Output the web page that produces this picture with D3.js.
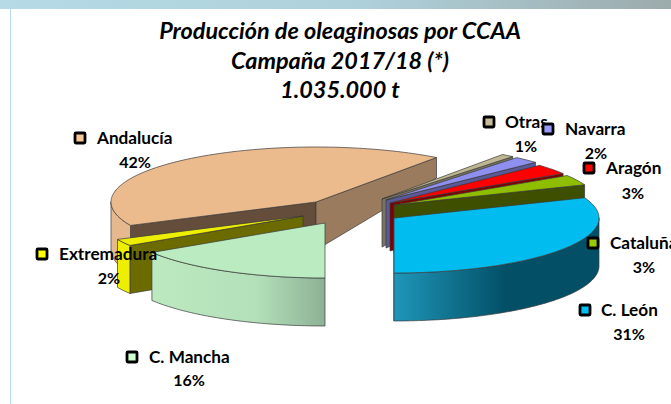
<!DOCTYPE html>
<html>
<head>
<meta charset="utf-8">
<script src="https://cdn.jsdelivr.net/npm/d3@7"></script>
<style>
html, body { margin: 0; padding: 0; background: #fff; overflow: hidden; }
svg { display: block; font-family: Lato, sans-serif; }
</style>
</head>
<body>
<script>
var w = 671;
var h = 404;

// data, in the order the pie runs clockwise starting at Andalucia
var regions = ["Andalucía", "Otras", "Navarra", "Aragón", "Cataluña", "C. León", "C. Mancha", "Extremadura"];
var shares = [42, 1, 2, 3, 3, 31, 16, 2];
var titleLines = ["Producción de oleaginosas por CCAA", "Campaña 2017/18 (*)", "1.035.000 t"];

// colours per region
var topColors = ["#ebbb8e", "#bdb691", "#8f8fef", "#ff0000", "#8fbe00", "#00bcef", "#bbebc0", "#eeee00"];
var keyColors = ["#f9c796", "#c4bd97", "#9999ff", "#ff0000", "#99cc00", "#00bff0", "#ccffcc", "#ffff00"];
var rimColors = ["#e6b88d", "#bdb691", "#8f8fef", "#cc0000", "#8fbe00", "url(#leon)", "url(#mancha)", "#eeee00"];
var endColors = ["#9b7b5e", "#79745f", "#5a5a99", "#800000", "#3f4f00", "#024f66", "#8cb094", "#6b6b00"];

// exploded slice centres, layout only
var centers = [[316, 202], [382, 199], [386, 200], [390, 203], [394, 205], [394, 218], [325, 223], [303, 216]];
// legend layout: key centre, text left, percent centre
var labelPos = [
  [80, 138, 97, 135, 162], [489, 122, 505, 526, 146], [548, 129, 565, 596, 153], [589, 168, 606, 633, 193],
  [593, 243, 610, 644, 267], [585, 310, 601, 629, 334], [132, 357, 149, 189, 380], [42, 254, 59, 109, 278]
];
var drawOrder = [0, 7, 6, 1, 2, 3, 4, 5];

var rx = 205, ry = 55, depth = 48;

var svg = d3.select("body").append("svg")
  .attr("width", w)
  .attr("height", h);

var defs = svg.append("defs");
function gradient(id, x1, x2, stops) {
  var g = defs.append("linearGradient")
    .attr("id", id)
    .attr("gradientUnits", "userSpaceOnUse")
    .attr("x1", x1).attr("x2", x2).attr("y1", 0).attr("y2", 0);
  stops.forEach(function (s) {
    g.append("stop").attr("offset", s[0]).attr("stop-color", s[1]);
  });
}
gradient("leon", 394, 598, [[0, "#1f96b9"], [0.55, "#024f66"], [1, "#024f66"]]);
gradient("mancha", 152, 326, [[0, "#bde9c0"], [0.6, "#b3e0b9"], [1, "#8cb094"]]);
gradient("band", 0, w, [[0, "#b6dbe6"], [0.55, "#aed0da"], [1, "#9cabac"]]);

// page frame
svg.append("rect").attr("x", 0).attr("y", 0).attr("width", w).attr("height", 9).attr("fill", "url(#band)");
svg.append("rect").attr("x", 10).attr("y", 9).attr("width", 1).attr("height", h - 9).attr("fill", "#b5dbe6");

var pie = d3.pie().sort(null)
  .startAngle(244.8 * Math.PI / 180)
  .endAngle((244.8 + 360) * Math.PI / 180);
var arcs = pie(shares);

var line = d3.line();

function rimPoint(c, a) {
  return [c[0] + rx * Math.sin(a), c[1] - ry * Math.cos(a)];
}
// walls get shorter towards the back of the pie
function wallHeight(a) {
  var co = Math.cos(a);
  return co > 0 ? depth - 34 * co : depth;
}
function rimAngles(a0, a1) {
  var n = Math.max(2, Math.ceil((a1 - a0) / 0.02));
  return d3.range(n + 1).map(function (i) { return a0 + (a1 - a0) * i / n; });
}
// front facing part of the rim, in pie angles
function frontRim(a0, a1) {
  var spans = [];
  [[Math.PI / 2, 3 * Math.PI / 2], [5 * Math.PI / 2, 7 * Math.PI / 2]].forEach(function (f) {
    var lo = Math.max(a0, f[0]), hi = Math.min(a1, f[1]);
    if (hi > lo) spans.push([lo, hi]);
  });
  return spans;
}

var edge = { stroke: "#3a3a3a", width: 0.7 };
function face(g, pts, fill) {
  g.append("path")
    .attr("d", line(pts) + "Z")
    .attr("fill", fill)
    .attr("stroke", edge.stroke)
    .attr("stroke-width", edge.width)
    .attr("stroke-linejoin", "round");
}
function sideWall(c, a) {
  var p = rimPoint(c, a);
  return [c, p, [p[0], p[1] + wallHeight(a)], [c[0], c[1] + depth]];
}

var slices = svg.append("g");
drawOrder.forEach(function (i) {
  var d = arcs[i], c = centers[i];
  var g = slices.append("g");

  // inner wall of the start edge only shows on the left half
  if (i === 0) face(g, sideWall(c, d.startAngle), "#654d3c");
  if (i === 7) face(g, sideWall(c, d.startAngle), endColors[i]);
  // end edge wall shows on the right half
  if (Math.sin(d.endAngle) > 0) face(g, sideWall(c, d.endAngle), endColors[i]);

  frontRim(d.startAngle, d.endAngle).forEach(function (s) {
    var as = rimAngles(s[0], s[1]);
    var up = as.map(function (a) { return rimPoint(c, a); });
    var down = as.map(function (a) {
      var p = rimPoint(c, a);
      return [p[0], p[1] + wallHeight(a)];
    }).reverse();
    face(g, up.concat(down), rimColors[i]);
  });

  var top = [c].concat(rimAngles(d.startAngle, d.endAngle).map(function (a) { return rimPoint(c, a); }));
  face(g, top, topColors[i]);
});

// title
svg.append("g").selectAll("text")
  .data(titleLines)
  .enter()
  .append("text")
  .text(function (d) { return d; })
  .attr("text-anchor", "middle")
  .attr("x", 340)
  .attr("y", function (d, i) { return 39 + i * 29.5; })
  .attr("font-size", 23.4)
  .attr("font-weight", "bold")
  .attr("font-style", "italic")
  .attr("fill", "#000");

// labels
var labels = svg.append("g").selectAll("g")
  .data(regions)
  .enter()
  .append("g");
labels.append("rect")
  .attr("x", function (d, i) { return labelPos[i][0] - 5; })
  .attr("y", function (d, i) { return labelPos[i][1] - 5; })
  .attr("width", 10)
  .attr("height", 10)
  .attr("rx", 1)
  .attr("fill", function (d, i) { return keyColors[i]; })
  .attr("stroke", "#000")
  .attr("stroke-width", 2.8);
labels.append("text")
  .text(function (d) { return d; })
  .attr("x", function (d, i) { return labelPos[i][2]; })
  .attr("y", function (d, i) { return labelPos[i][1] + 6; })
  .attr("font-size", 17.2)
  .attr("font-weight", "bold")
  .attr("fill", "#000");
labels.append("text")
  .text(function (d, i) { return shares[i] + "%"; })
  .attr("text-anchor", "middle")
  .attr("x", function (d, i) { return labelPos[i][3]; })
  .attr("y", function (d, i) { return labelPos[i][4] + 6; })
  .attr("font-size", 16)
  .attr("font-weight", "bold")
  .attr("fill", "#000");
</script>
</body>
</html>
